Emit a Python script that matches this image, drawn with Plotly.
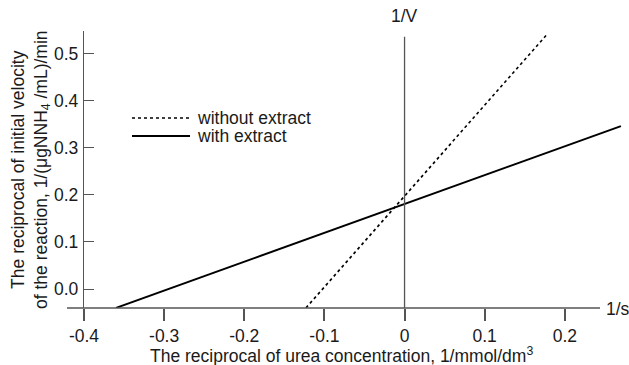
import plotly.graph_objects as go

# ---- data ----
series_names = ["without extract", "with extract"]
without_x = [-0.123, 0.178]
without_y = [-0.040, 0.541]
with_x = [-0.360, 0.270]
with_y = [-0.040, 0.346]

x_tickvals = [-0.4, -0.3, -0.2, -0.1, 0.0, 0.1, 0.2]
x_ticktext = ["-0.4", "-0.3", "-0.2", "-0.1", "0", "0.1", "0.2"]
y_tickvals = [0.0, 0.1, 0.2, 0.3, 0.4, 0.5]
y_ticktext = ["0.0", "0.1", "0.2", "0.3", "0.4", "0.5"]

x_range = [-0.4, 0.2751]
y_range = [-0.0403, 0.548]
v_axis_top = 0.536

FONT = "Liberation Sans, Arial, sans-serif"
FS = 17.5
AX = "#555555"
TXT = "#1a1a1a"

L, R, T, B = 84, 4, 31, 57
W, H = 629, 365
pw, ph = W - L - R, H - T - B


def px(x):
    return (x - L) / pw


def py(y):
    return (H - B - y) / ph


fig = go.Figure()
fig.add_trace(go.Scatter(x=without_x, y=without_y, mode="lines", name=series_names[0],
                         line=dict(color="black", width=1.6, dash="dot"), showlegend=False))
fig.add_trace(go.Scatter(x=with_x, y=with_y, mode="lines", name=series_names[1],
                         line=dict(color="black", width=2), showlegend=False))

# horizontal axis line (extends a little left of the y axis, stops before "1/s")
fig.add_shape(type="line", xref="paper", yref="paper", x0=px(67), x1=px(600),
              y0=0, y1=0, line=dict(color=AX, width=1.4))
# vertical line at 1/s = 0
fig.add_shape(type="line", xref="x", yref="y", x0=0, x1=0,
              y0=y_range[0], y1=v_axis_top, line=dict(color=AX, width=1.3))

# legend
leg_rows = [(118, "dot", 1.6), (136, "solid", 2)]
for (yy, dash, w), name in zip(leg_rows, series_names):
    fig.add_shape(type="line", xref="paper", yref="paper", x0=px(132), x1=px(190),
                  y0=py(yy), y1=py(yy), line=dict(color="black", width=w, dash=dash))
    fig.add_annotation(xref="paper", yref="paper", x=px(196), y=py(yy), text=name,
                       showarrow=False, xanchor="left", yanchor="middle", borderpad=0,
                       font=dict(family=FONT, size=FS, color=TXT))

fig.add_annotation(xref="x", yref="paper", x=0, y=py(16), text="1/V", showarrow=False,
                   xanchor="center", yanchor="middle", font=dict(family=FONT, size=FS, color=TXT))
fig.add_annotation(xref="paper", yref="paper", x=px(604), y=py(309), text="1/s", showarrow=False,
                   xanchor="left", yanchor="middle", font=dict(family=FONT, size=FS, color=TXT))
fig.add_annotation(xref="paper", yref="paper", x=px(341), y=py(355),
                   text="The reciprocal of urea concentration, 1/mmol/dm<sup>3</sup>",
                   showarrow=False, xanchor="center", yanchor="middle", borderpad=0,
                   font=dict(family=FONT, size=FS, color=TXT))
fig.add_annotation(xref="paper", yref="paper", x=px(30), y=py(170),
                   text="The reciprocal of initial velocity<br>of the reaction, 1/(μgNNH<sub>4</sub> /mL)/min",
                   showarrow=False, xanchor="center", yanchor="middle", textangle=-90,
                   font=dict(family=FONT, size=FS, color=TXT))

fig.update_layout(
    width=W, height=H,
    margin=dict(l=L, r=R, t=T, b=B, pad=0),
    paper_bgcolor="white", plot_bgcolor="white",
    font=dict(family=FONT, size=FS, color=TXT),
    xaxis=dict(range=x_range, showgrid=False, zeroline=False, showline=False,
               tickmode="array", tickvals=x_tickvals, ticktext=x_ticktext,
               ticks="outside", ticklen=12, tickwidth=1.5, tickcolor=AX,
               ticklabelstandoff=0,
               tickfont=dict(family=FONT, size=FS, color=TXT)),
    yaxis=dict(range=y_range, showgrid=False, zeroline=False, showline=True,
               linecolor=AX, linewidth=1.3,
               tickmode="array", tickvals=y_tickvals, ticktext=y_ticktext,
               ticks="inside", ticklen=10, tickwidth=1.3, tickcolor=AX,
               ticklabelstandoff=1,
               tickfont=dict(family=FONT, size=FS, color=TXT)),
    showlegend=False,
)

fig.write_html("out.html")
